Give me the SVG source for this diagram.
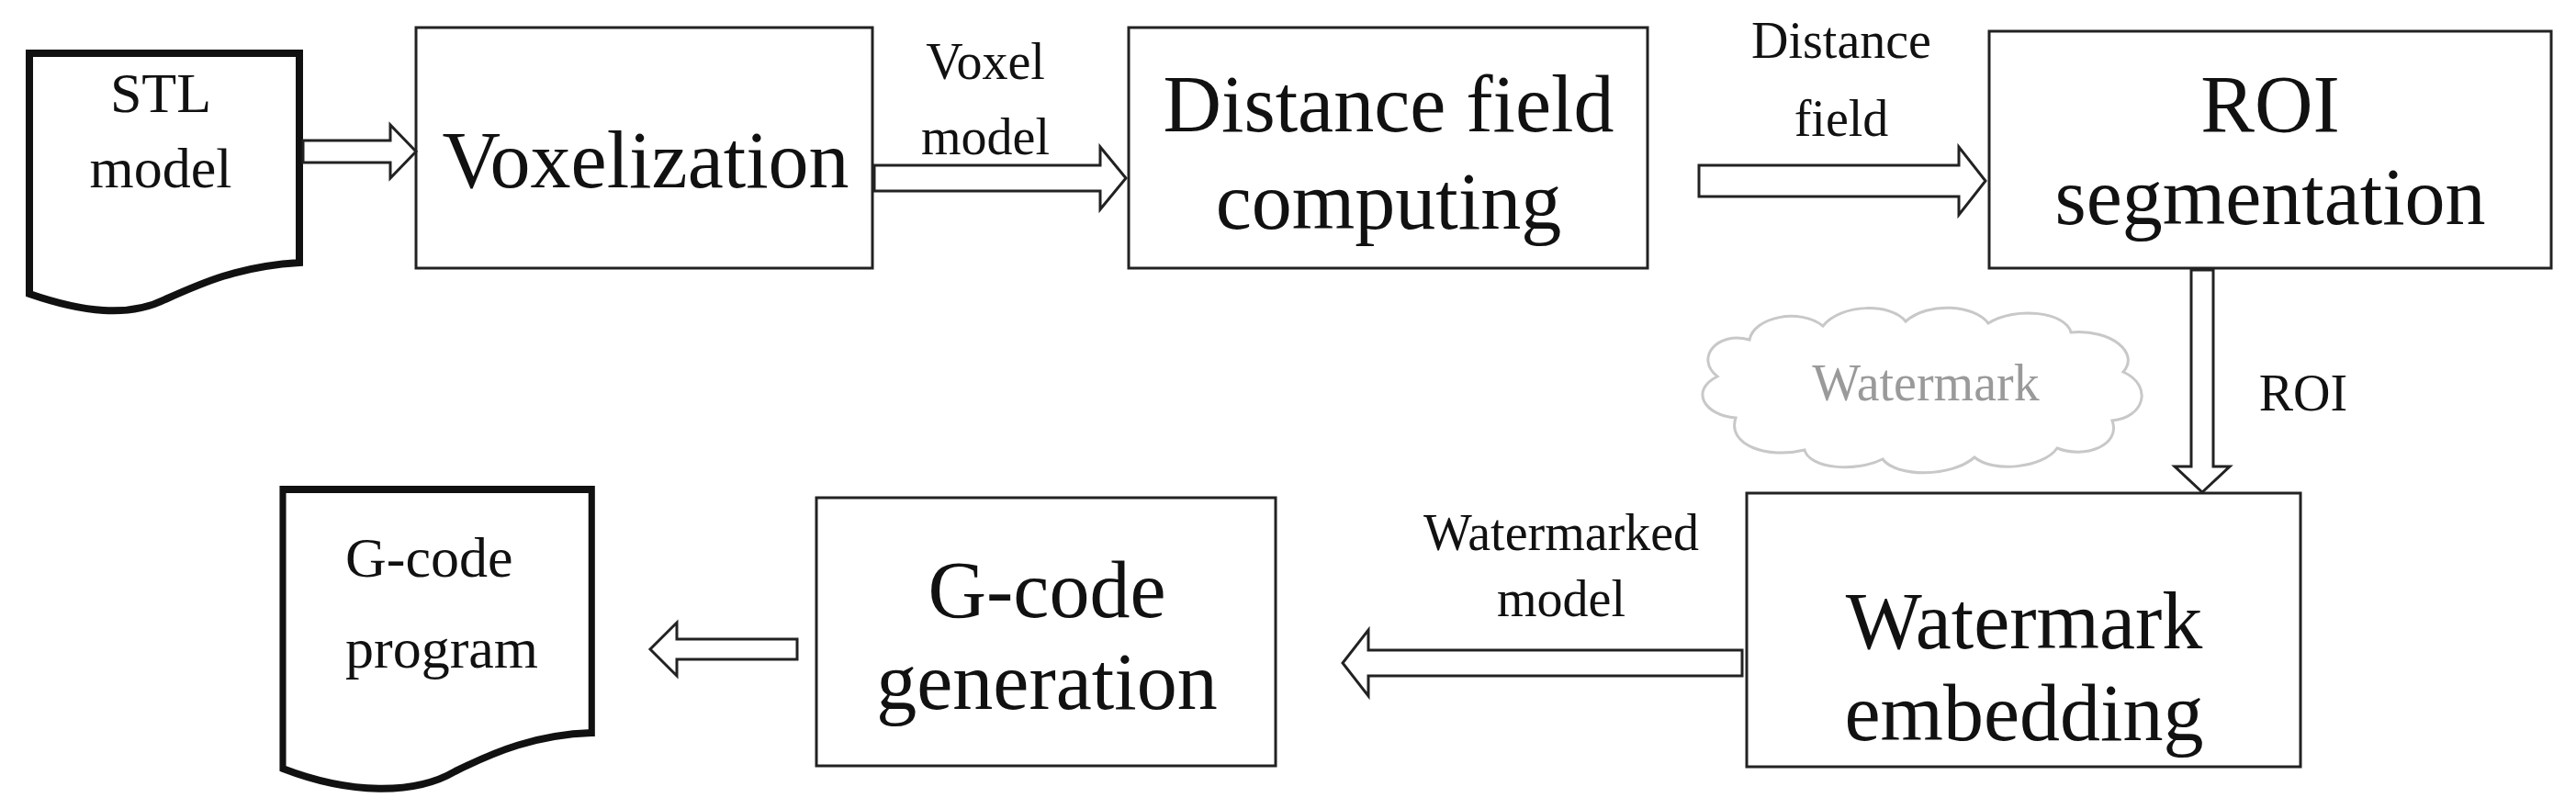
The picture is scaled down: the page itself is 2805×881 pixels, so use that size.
<svg xmlns="http://www.w3.org/2000/svg" width="2805" height="881" viewBox="0 0 2805 881">
<style>
text{font-family:"Liberation Serif","Times New Roman",serif;fill:#111;text-anchor:middle}
.box{fill:#fff;stroke:#222;stroke-width:3}
.doc{fill:#fff;stroke:#111;stroke-width:8}
.arr{fill:#fff;stroke:#222;stroke-width:3}
.big{font-size:88px}.mid{font-size:62px}.lab{font-size:56px}
</style>
<rect width="2805" height="881" fill="#fff"/>
<g id="stl"><path class="doc" d="M32,58 H326 V286 C260,290 220,308 180,326 C140,346 90,340 32,320 Z"/><text class="mid" x="175" y="122">STL</text><text class="mid" x="175" y="204">model</text></g>
<g id="vox"><rect class="box" x="453" y="30" width="497" height="262"/><text class="big" x="703" y="204">Voxelization</text></g>
<g id="dist"><rect class="box" x="1229" y="30" width="565" height="262"/><text class="big" x="1512" y="143">Distance field</text><text class="big" x="1512" y="249">computing</text></g>
<g id="roi"><rect class="box" x="2166" y="34" width="612" height="258"/><text class="big" x="2472" y="143">ROI</text><text class="big" x="2472" y="244">segmentation</text></g>
<g id="emb"><rect class="box" x="1902" y="537" width="603" height="298"/><text class="big" x="2204" y="706">Watermark</text><text class="big" x="2204" y="806">embedding</text></g>
<g id="gen"><rect class="box" x="889" y="542" width="500" height="292"/><text class="big" x="1140" y="672">G-code</text><text class="big" x="1140" y="772">generation</text></g>
<g id="prog"><path class="doc" d="M308,533 H688 V798 C620,800 570,818 520,840 C470,866 390,865 308,837 Z" transform="scale(0.885,1) translate(40,0)"/><text class="mid" x="376" y="628" style="text-anchor:start">G-code</text><text class="mid" x="376" y="727" style="text-anchor:start">program</text></g>
<g id="cloud"><path d="M1890,455 C1855,452 1840,425 1870,410 C1845,390 1870,360 1905,370 C1910,345 1960,335 1985,355 C2005,330 2060,330 2075,350 C2100,328 2150,332 2165,352 C2195,333 2250,340 2255,362 C2300,358 2330,385 2312,405 C2345,420 2335,455 2300,458 C2310,485 2270,500 2240,488 C2225,510 2170,515 2150,498 C2125,520 2065,520 2050,500 C2020,515 1970,510 1965,490 C1925,500 1880,485 1890,455 Z" fill="#fff" stroke="#c8c8c8" stroke-width="3"/><text class="lab" x="2097" y="436" style="fill:#9a9a9a">Watermark</text></g>
<g id="connectors">
<polygon class="arr" points="330,153 425,153 425,136 453,165 425,194 425,177 330,177"/>
<polygon class="arr" points="952,180 1198,180 1198,160 1226,194 1198,228 1198,208 952,208"/>
<polygon class="arr" points="1850,180 2133,180 2133,160 2162,197 2133,234 2133,214 1850,214"/>
<polygon class="arr" points="2386,294 2410,294 2410,508 2428,508 2398,536 2368,508 2386,508"/>
<polygon class="arr" points="1897,708 1490,708 1490,686 1462,722 1490,758 1490,736 1897,736"/>
<polygon class="arr" points="868,696 737,696 737,678 708,707 737,736 737,718 868,718"/>
<text class="lab" x="1073" y="86">Voxel</text><text class="lab" x="1073" y="168">model</text>
<text class="lab" x="2005" y="63">Distance</text><text class="lab" x="2005" y="148">field</text>
<text class="lab" x="2508" y="447">ROI</text>
<text class="lab" x="1700" y="599">Watermarked</text><text class="lab" x="1700" y="671">model</text>
</g>
</svg>
